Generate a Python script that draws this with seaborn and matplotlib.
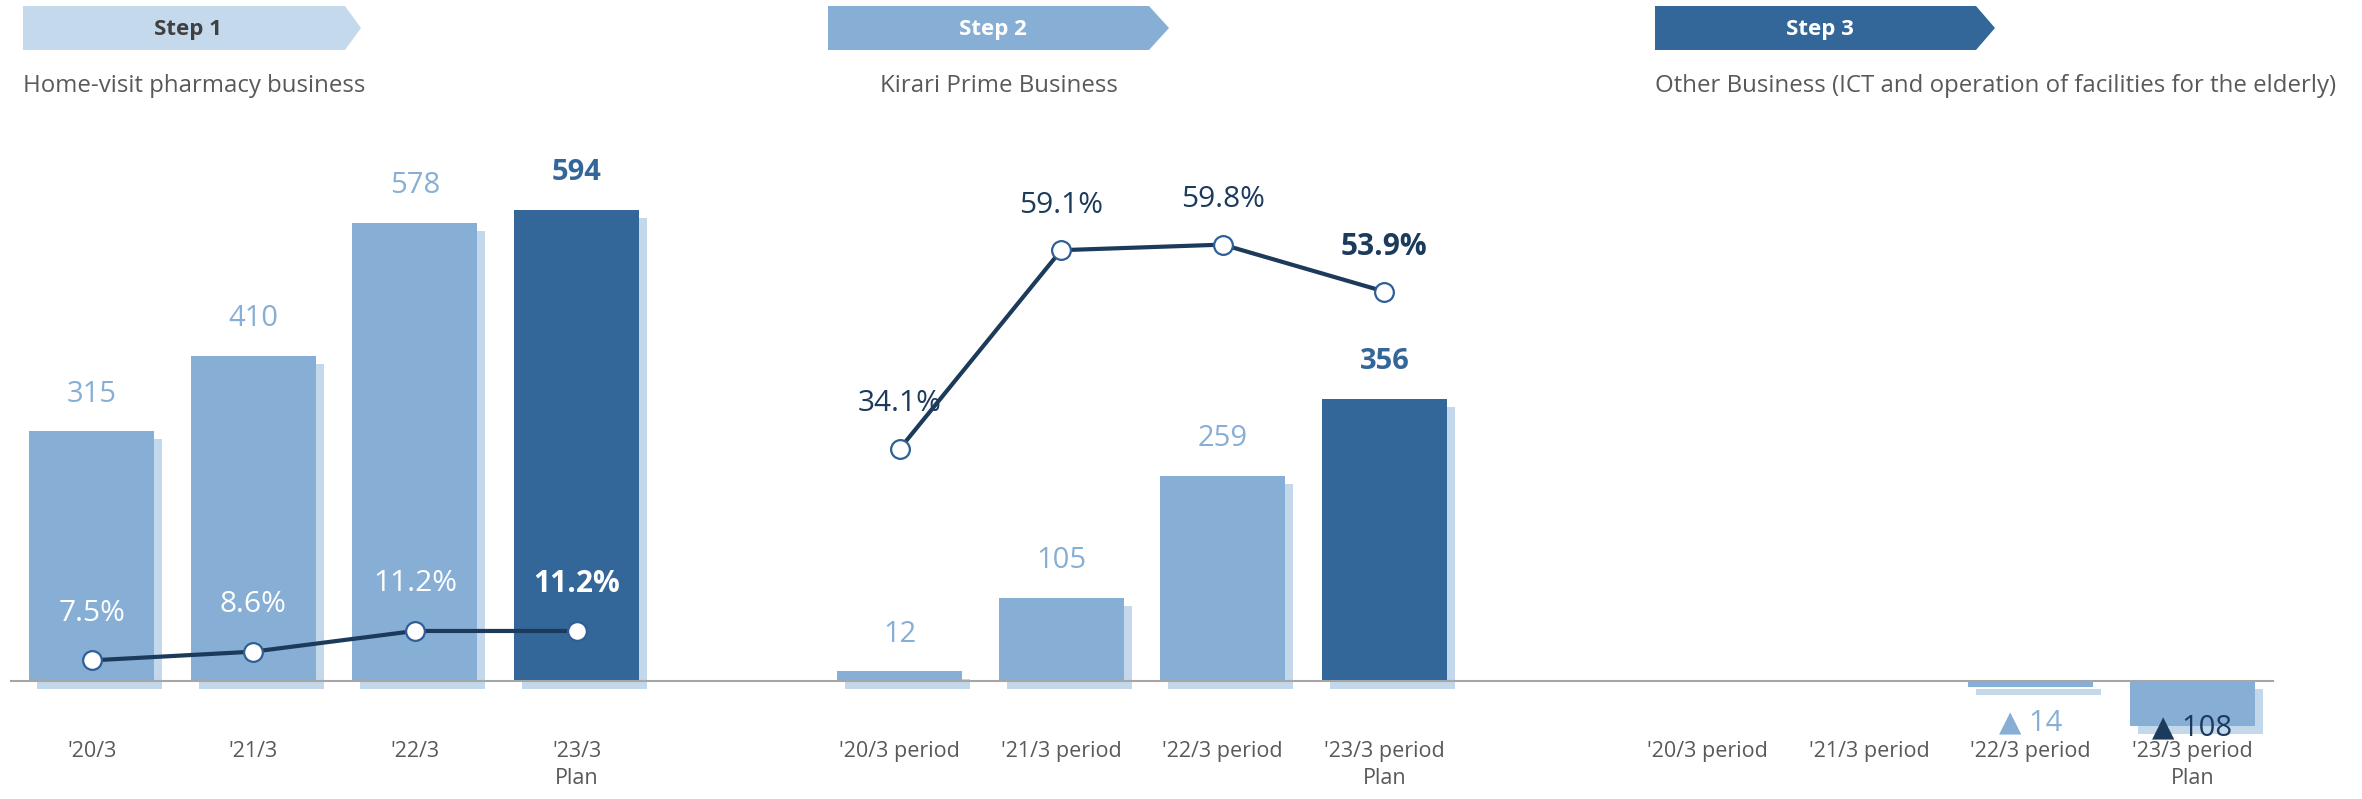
import matplotlib
matplotlib.use("Agg")
import matplotlib.pyplot as plt
import seaborn as sns
import pandas as pd
from matplotlib.transforms import ScaledTranslation
from matplotlib.patches import Polygon

# ---- data -------------------------------------------------------------
home_periods = ["'20/3", "'21/3", "'22/3", "'23/3\nPlan"]
home_sales = [315, 410, 578, 594]
home_margin = [7.5, 8.6, 11.2, 11.2]

kirari_periods = ["'20/3 period", "'21/3 period", "'22/3 period", "'23/3 period\nPlan"]
kirari_sales = [12, 105, 259, 356]
kirari_margin = [34.1, 59.1, 59.8, 53.9]

other_periods = ["'20/3 period", "'21/3 period", "'22/3 period", "'23/3 period\nPlan"]
other_profit = [None, None, -14, -108]

is_plan = [False, False, False, True]

step_names = ["Step 1", "Step 2", "Step 3"]
segment_titles = ["Home-visit pharmacy business",
                  "Kirari Prime Business",
                  "Other Business (ICT and operation of facilities for the elderly)"]

# ---- style ------------------------------------------------------------
LIGHT = "#87AFD6"
DARK = "#336699"
SHADOW = "#C3D8EB"
PALE = "#C5D9EC"
NAVY = "#1B3A5C"
EDGE = "#2F5F96"
GREY = "#595959"

sns.set_theme(style="white")
plt.rcParams["font.family"] = ["Open Sans", "DejaVu Sans"]

W, H = 2362, 799
fig = plt.figure(figsize=(W / 100, H / 100), dpi=100)


def rect(left, top, right, bottom):
    return [left / W, (H - bottom) / H, (right - left) / W, (bottom - top) / H]


# slot positions: three groups of four, one empty slot between groups
pos1 = [0, 1, 2, 3]
pos2 = [5, 6, 7, 8]
pos3 = [10, 11, 12, 13]
XLIM = (-0.5, 13.5)
BAR_W = 0.773

kind = ["plan" if p else "actual" for p in is_plan]
df12 = pd.DataFrame({
    "pos": pos1 + pos2,
    "value": home_sales + kirari_sales,
    "kind": kind + kind,
})
df3 = pd.DataFrame({"pos": pos3, "value": other_profit, "kind": kind}).dropna()

shadow_shift = ScaledTranslation(0.08, -0.08, fig.dpi_scale_trans)


def draw_bars(ax, data, palette):
    n0 = len(ax.patches)
    sns.barplot(data=data, x="pos", y="value", color=SHADOW, native_scale=True,
                width=BAR_W, errorbar=None, saturation=1, ax=ax)
    for p in ax.patches[n0:]:
        p.set_transform(ax.transData + shadow_shift)
        p.set_clip_on(False)
        p.set_linewidth(0)
    sns.barplot(data=data, x="pos", y="value", hue="kind", palette=palette,
                native_scale=True, width=BAR_W, dodge=False, errorbar=None,
                saturation=1, legend=False, ax=ax)
    for p in ax.patches:
        p.set_linewidth(0)


# ---- main bars (segments 1 and 2) -------------------------------------
ax = fig.add_axes(rect(11, 90, 2273, 681))
draw_bars(ax, df12, {"actual": LIGHT, "plan": DARK})
ax.set_xlim(*XLIM)
ax.set_ylim(0, 745.3)
ax.set_xlabel("")
ax.set_ylabel("")
ax.set_yticks([])
for s in ["top", "left", "right"]:
    ax.spines[s].set_visible(False)
ax.spines["bottom"].set_color("#A6A6A6")
ax.spines["bottom"].set_linewidth(1.5)
ax.spines["bottom"].set_zorder(5)
ax.set_xticks(pos1 + pos2 + pos3, home_periods + kirari_periods + other_periods)
ax.tick_params(axis="x", length=0, pad=43, labelsize=15.5, labelcolor=GREY)
for t in ax.get_xticklabels():
    t.set_linespacing(1.42)
    t.set_multialignment("center")

for x, v, plan in zip(pos1 + pos2, home_sales + kirari_sales, is_plan + is_plan):
    ax.annotate(f"{v}", (x, v), xytext=(0, 37), textcoords="offset pixels",
                ha="center", va="center", fontsize=21,
                color=DARK if plan else LIGHT,
                fontweight="bold" if plan else "normal")

# ---- segment 3 (operating loss) on its own scale ----------------------
ax3 = fig.add_axes(rect(11, 90, 2273, 790))
draw_bars(ax3, df3, {"actual": LIGHT, "plan": LIGHT})
ax3.set_xlim(*XLIM)
ax3.set_ylim(-261.6, 1418.3)
ax3.axis("off")
label_drop = [36, 2]
for (x, v, k), d in zip(df3[["pos", "value", "kind"]].itertuples(index=False), label_drop):
    ax3.annotate(f"▲ {abs(int(v))}", (x, v), xytext=(0, -d), textcoords="offset pixels",
                 ha="center", va="center", fontsize=21,
                 color=NAVY if k == "plan" else LIGHT)

# ---- operating margin lines -------------------------------------------
axp = fig.add_axes(rect(11, 90, 2273, 790))
line_kw = dict(color=NAVY, linewidth=3, marker="o", markersize=13.5,
               markerfacecolor="white", markeredgecolor=EDGE, markeredgewidth=1.6)
sns.lineplot(x=pos1, y=home_margin, ax=axp, **line_kw)
sns.lineplot(x=pos2, y=kirari_margin, ax=axp, **line_kw)
axp.set_xlim(*XLIM)
axp.set_ylim(-8.805, 79.25)
axp.axis("off")

for x, v, plan in zip(pos1, home_margin, is_plan):
    axp.annotate(f"{v}%", (x, v), xytext=(0, 47), textcoords="offset pixels",
                 ha="center", va="center", fontsize=21.5, color="white",
                 fontweight="bold" if plan else "normal")
for x, v, plan in zip(pos2, kirari_margin, is_plan):
    axp.annotate(f"{v}%", (x, v), xytext=(0, 45), textcoords="offset pixels",
                 ha="center", va="center", fontsize=21.5, color=NAVY,
                 fontweight="bold" if plan else "normal")

# ---- step headers -----------------------------------------------------
def px(x, y):
    return (x / W, (H - y) / H)


headers = [
    (23, 345, 361, PALE, "#404040", "left", 23),
    (828, 1149, 1169, LIGHT, "white", "center", 999),
    (1655, 1976, 1995, DARK, "white", "left", 1655),
]
for name, title, (x0, x1, tip, fill, tcol, ha, tx) in zip(step_names, segment_titles, headers):
    poly = Polygon([px(x0, 6), px(x1, 6), px(tip, 28), px(x1, 50), px(x0, 50)],
                   closed=True, transform=fig.transFigure, facecolor=fill,
                   edgecolor="none")
    fig.patches.append(poly)
    fig.text(*px((x0 + x1) / 2 + 4, 29), name, ha="center", va="center",
             fontsize=16, fontweight="bold", color=tcol)
    fig.text(*px(tx, 86), title, ha=ha, va="center", fontsize=17.3, color=GREY)

fig.savefig("out.png", dpi=100)
